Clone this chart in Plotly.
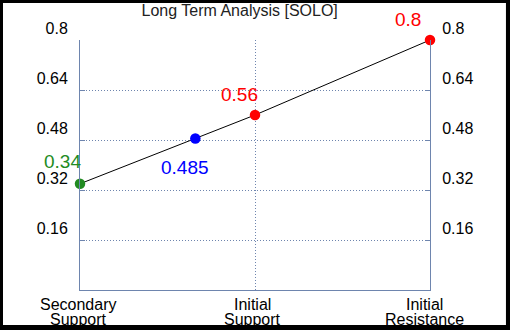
import plotly.graph_objects as go

# ---- data ----
title_text = "Long Term Analysis [SOLO]"
categories = ["Secondary Support", "Initial Support", "Initial Resistance"]
x_tick_labels = ["Secondary<br>Support", "Initial<br>Support", "Initial<br>Resistance"]
secondary_support = 0.34
current_price = 0.485
initial_support = 0.56
initial_resistance = 0.8
y_ticks = [0.16, 0.32, 0.48, 0.64, 0.8]
y_tick_labels = ["0.16", "0.32", "0.48", "0.64", "0.8"]

# ---- derived positions (category index; current price interpolated between supports) ----
cur_x = (current_price - secondary_support) / (initial_support - secondary_support)
xs = [0, cur_x, 1, 2]
ys = [secondary_support, current_price, initial_support, initial_resistance]
colors = ["forestgreen", "blue", "red", "red"]
labels = ["0.34", "0.485", "0.56", "0.8"]
label_shift = [(-18, 22), (-10, -29), (-16, 21), (-22, 21)]

AX = "#6E85AE"
FONT = "Liberation Sans, Arial, sans-serif"
DOT = "1px,2px"

fig = go.Figure()
fig.add_trace(go.Scatter(
    x=xs, y=ys, mode="lines+markers",
    line=dict(color="black", width=1),
    marker=dict(color=colors, size=10.5),
    cliponaxis=False, showlegend=False, hoverinfo="skip",
))
fig.add_trace(go.Scatter(x=[0], y=[0], yaxis="y2", mode="markers",
                         marker=dict(opacity=0), showlegend=False, hoverinfo="skip"))

for (x, y, c, t, (dx, dy)) in zip(xs, ys, colors, labels, label_shift):
    fig.add_annotation(x=x, y=y, xref="x", yref="y", text=t, showarrow=False,
                       font=dict(color=c, size=19, family=FONT),
                       xshift=dx, yshift=dy)

x_label_shift = [-2, -3, -6]
for i, lab in enumerate(x_tick_labels):
    for j, line in enumerate(lab.split("<br>")):
        fig.add_annotation(x=i, y=0, xref="x", yref="paper", text=line, showarrow=False,
                           font=dict(color="black", size=16, family=FONT),
                           yanchor="middle", yshift=-14 - 15 * j, xshift=x_label_shift[i])

axis_common = dict(
    range=[0, 0.8], tickvals=y_ticks, ticktext=y_tick_labels,
    showline=True, linecolor=AX, linewidth=1,
    ticks="inside", ticklen=5, tickcolor=AX,
    tickfont=dict(size=16, color="black", family=FONT),
    ticklabelshift=-12, ticklabelstandoff=8,
    zeroline=False,
)

fig.update_layout(
    width=510, height=330,
    margin=dict(l=80, r=80, t=40, b=40),
    paper_bgcolor="black", plot_bgcolor="white",
    title=dict(text=title_text, x=0.47, xanchor="center", y=0.97, yanchor="middle",
               font=dict(size=16, color="#222", family=FONT)),
    xaxis=dict(range=[0, 2], tickvals=[0, 1, 2], showticklabels=False,
               showline=True, linecolor=AX, linewidth=1, mirror=False,
               showgrid=True, gridcolor=AX, griddash=DOT, gridwidth=1,
               zeroline=False, ticks=""),
    yaxis=dict(side="left", showgrid=True, gridcolor=AX, griddash=DOT, gridwidth=1,
               **axis_common),
    yaxis2=dict(side="right", overlaying="y", showgrid=False, **axis_common),
    shapes=[dict(type="rect", xref="paper", yref="paper", x0=-0.22, x1=1.217,
                 y0=-0.14, y1=1.148, fillcolor="white", line=dict(width=0), layer="below")],
)

fig.write_html("out.html", config={"displayModeBar": False},
               post_script="document.body.style.margin='0';document.body.style.background='black';")
